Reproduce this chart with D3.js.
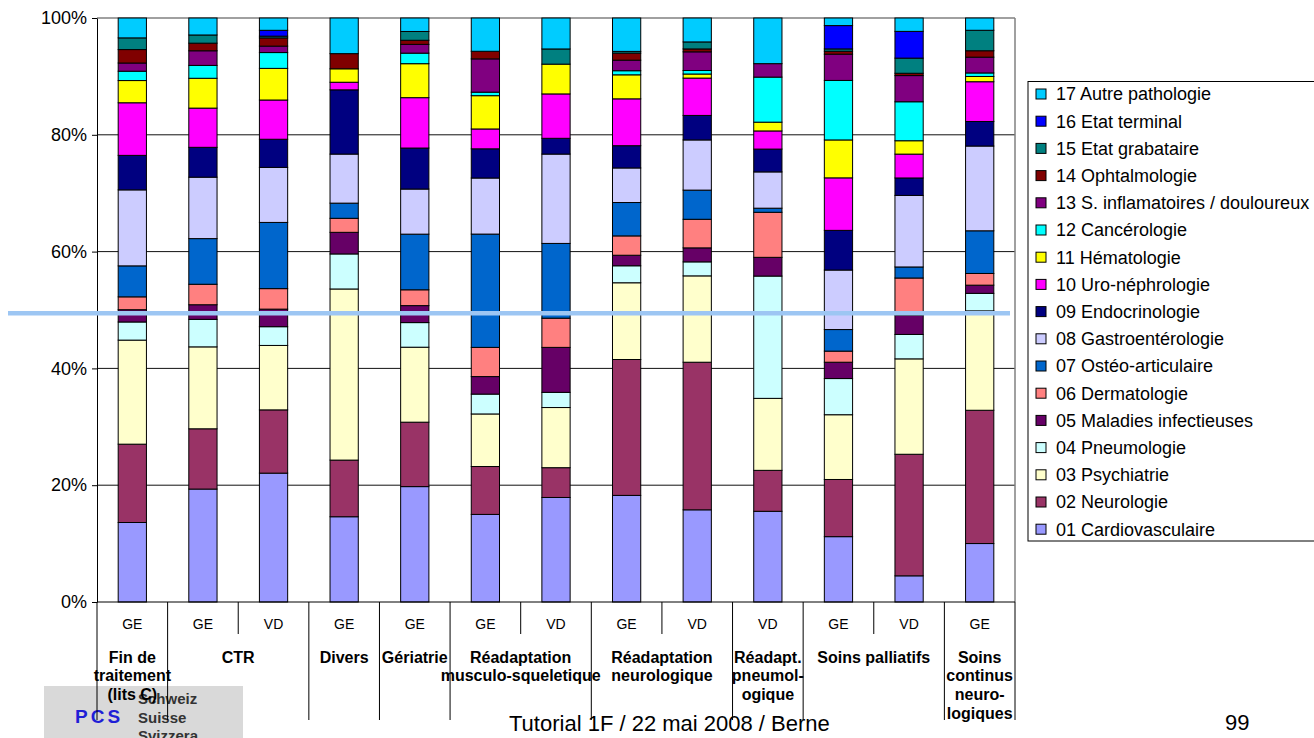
<!DOCTYPE html>
<html>
<head>
<meta charset="utf-8">
<script src="https://cdn.jsdelivr.net/npm/d3@7"></script>
<style>
  body { margin: 0; background: #fff; }
  svg { display: block; font-family: Arial, "Liberation Sans", sans-serif; }
</style>
</head>
<body>
<svg width="1314" height="738"></svg>
<script>
// level 1 of the category axis (canton), one per bar
const sites = ['GE', 'GE', 'VD', 'GE', 'GE', 'GE', 'VD', 'GE', 'VD', 'VD', 'GE', 'VD', 'GE'];
// level 2 of the category axis, split into lines as in the slide
const groupNames = [
  ['Fin de', 'traitement', '(lits C)'],
  ['CTR'],
  ['Divers'],
  ['Gériatrie'],
  ['Réadaptation', 'musculo-squeletique'],
  ['Réadaptation', 'neurologique'],
  ['Réadapt.', 'pneumol-', 'ogique'],
  ['Soins palliatifs'],
  ['Soins', 'continus', 'neuro-', 'logiques']
];
const groupSizes = [1, 2, 1, 1, 2, 2, 1, 2, 1];

const seriesNames = [
  '01 Cardiovasculaire', '02 Neurologie', '03 Psychiatrie', '04 Pneumologie',
  '05 Maladies infectieuses', '06 Dermatologie', '07 Ostéo-articulaire',
  '08 Gastroentérologie', '09 Endocrinologie', '10 Uro-néphrologie',
  '11 Hématologie', '12 Cancérologie', '13 S. inflamatoires / douloureux',
  '14 Ophtalmologie', '15 Etat grabataire', '16 Etat terminal', '17 Autre pathologie'
];
const seriesColors = [
  '#9999FF', '#993366', '#FFFFCC', '#CCFFFF', '#660066', '#FF8080', '#0066CC',
  '#CCCCFF', '#000080', '#FF00FF', '#FFFF00', '#00FFFF', '#800080', '#800000',
  '#008080', '#0000FF', '#00CCFF'
];

// shares in % per bar
const cardio    = [13.6, 19.3, 22.0, 14.6, 19.7, 15.0, 17.9, 18.2, 15.8, 15.5, 11.2, 4.5, 10.0];
const neuro     = [13.4, 10.3, 10.8, 9.7, 11.0, 8.2, 5.1, 23.2, 25.3, 7.0, 9.8, 20.9, 22.8];
const psych     = [17.8, 14.0, 11.0, 29.3, 12.8, 9.0, 10.3, 13.1, 14.8, 12.3, 11.1, 16.4, 17.0];
const pneumo    = [3.1, 4.7, 3.2, 6.0, 4.2, 3.4, 2.6, 2.9, 2.4, 20.9, 6.2, 4.2, 3.0];
const infect    = [2.1, 2.5, 3.0, 3.7, 2.9, 3.0, 7.7, 1.8, 2.4, 3.2, 2.8, 3.3, 1.4];
const dermato   = [2.2, 3.5, 3.5, 2.4, 2.7, 5.0, 5.0, 3.3, 4.9, 7.7, 1.9, 6.4, 2.0];
const osteo     = [5.3, 7.8, 11.3, 2.6, 9.5, 19.4, 12.8, 5.7, 5.0, 0.7, 3.7, 1.9, 7.3];
const gastro    = [13.0, 10.5, 9.4, 8.4, 7.7, 9.6, 15.3, 5.9, 8.6, 6.2, 10.2, 12.3, 14.5];
const endo      = [5.9, 5.1, 4.8, 11.0, 7.0, 5.0, 2.7, 3.8, 4.2, 3.9, 6.8, 3.0, 4.2];
const uro       = [9.0, 6.7, 6.7, 1.3, 8.6, 3.4, 7.6, 8.0, 6.4, 3.1, 9.0, 4.1, 6.8];
const hemato    = [3.8, 5.1, 5.4, 2.3, 5.8, 5.7, 5.1, 4.1, 0.7, 1.5, 6.5, 2.3, 0.9];
const cancer    = [1.6, 2.2, 2.7, 0, 1.8, 0.6, 0, 0.7, 0.6, 7.7, 10.2, 6.7, 0.6];
const inflam    = [1.4, 2.5, 1.1, 0, 1.5, 5.7, 0, 1.8, 3.2, 2.3, 4.5, 4.5, 2.7];
const ophtal    = [2.3, 1.3, 1.4, 2.6, 0.7, 1.3, 0, 1.2, 0.5, 0, 0.5, 0.4, 1.1];
const grabat    = [2.0, 1.4, 0.3, 0, 1.5, 0, 2.6, 0.3, 1.2, 0, 0.4, 2.6, 3.5];
const terminal  = [0, 0, 1.0, 0, 0, 0, 0, 0, 0, 0, 4.0, 4.6, 0];
const autre     = [3.4, 2.9, 2.1, 6.1, 2.3, 5.7, 5.3, 5.7, 4.1, 7.8, 1.3, 2.3, 2.1];

const yTicks = [0, 0.2, 0.4, 0.6, 0.8, 1];

const seriesValues = [cardio, neuro, psych, pneumo, infect, dermato, osteo, gastro,
  endo, uro, hemato, cancer, inflam, ophtal, grabat, terminal, autre];

const svg = d3.select('svg');
const plotLeft = 97, plotRight = 1015, plotTop = 18, plotBottom = 602;

// logo box sits behind the chart
const logo = svg.append('g');
logo.append('rect').attr('x', 44).attr('y', 686).attr('width', 199).attr('height', 52).attr('fill', '#d9d9d9');
logo.append('text').attr('x', 75).attr('y', 723).text('PCS')
  .attr('font-size', 19).attr('font-weight', 'bold').attr('letter-spacing', 3).attr('fill', '#1f1fd6');
logo.selectAll('text.lang').data(['Schweiz', 'Suisse', 'Svizzera']).join('text')
  .attr('class', 'lang')
  .attr('x', 138).attr('y', (d, i) => 704 + i * 18.5)
  .attr('font-size', 15).attr('font-weight', 'bold').attr('fill', '#333')
  .text(d => d);

const x = d3.scaleBand().domain(d3.range(sites.length)).range([plotLeft, plotRight])
  .paddingInner(0.6).paddingOuter(0.3);
const y = d3.scaleLinear().domain([0, 1]).range([plotBottom, plotTop]);
const step = x.step();
const slotLeft = i => plotLeft + i * step;

// gridlines
svg.append('g').selectAll('line').data(yTicks.filter(t => t > 0 && t < 1)).join('line')
  .attr('x1', plotLeft).attr('x2', plotRight).attr('y1', d => y(d)).attr('y2', d => y(d))
  .attr('stroke', '#111').attr('stroke-width', 1);
svg.append('line').attr('x1', plotLeft).attr('x2', plotRight).attr('y1', plotTop).attr('y2', plotTop)
  .attr('stroke', '#808080').attr('stroke-width', 1.5);
svg.append('line').attr('x1', plotRight).attr('x2', plotRight).attr('y1', plotTop).attr('y2', plotBottom)
  .attr('stroke', '#808080').attr('stroke-width', 1.5);

// stacked 100% bars
const rows = sites.map((s, i) => seriesValues.map(v => v[i]));
const stack = d3.stack().keys(d3.range(seriesNames.length)).value((d, k) => d[k])
  .offset(d3.stackOffsetExpand);
const layers = stack(rows);

svg.append('g').selectAll('g').data(layers).join('g')
  .attr('fill', (d, i) => seriesColors[i])
  .selectAll('rect').data(d => d.map((p, i) => ({ p, i })).filter(o => o.p[1] - o.p[0] > 0))
  .join('rect')
    .attr('x', o => x(o.i))
    .attr('width', x.bandwidth())
    .attr('y', o => y(o.p[1]))
    .attr('height', o => y(o.p[0]) - y(o.p[1]))
    .attr('stroke', '#000')
    .attr('stroke-width', 1);

// y axis
const yAxis = svg.append('g').attr('transform', `translate(${plotLeft},0)`)
  .call(d3.axisLeft(y).tickValues(yTicks).tickFormat(d3.format('.0%')).tickSize(5).tickSizeOuter(0));
yAxis.select('.domain').attr('stroke', '#000');
yAxis.selectAll('text').attr('font-size', 18).attr('font-family', 'Arial, "Liberation Sans", sans-serif')
  .attr('fill', '#000').attr('dx', -2);

// category axis line
svg.append('line').attr('x1', plotLeft).attr('x2', plotRight).attr('y1', plotBottom).attr('y2', plotBottom)
  .attr('stroke', '#000');

// separators: long ones at group borders, short ones inside groups
const groupStarts = groupSizes.map((s, i) => d3.sum(groupSizes.slice(0, i)));
const longSep = groupStarts.concat([sites.length]);
const catAxis = svg.append('g');
catAxis.selectAll('line').data(d3.range(sites.length + 1)).join('line')
  .attr('x1', i => slotLeft(i)).attr('x2', i => slotLeft(i))
  .attr('y1', plotBottom).attr('y2', i => longSep.includes(i) ? 720 : 634)
  .attr('stroke', '#000').attr('stroke-width', 1);

catAxis.selectAll('text.site').data(sites).join('text')
  .attr('class', 'site')
  .attr('x', (d, i) => x(i) + x.bandwidth() / 2).attr('y', 629)
  .attr('text-anchor', 'middle').attr('font-size', 14)
  .text(d => d);

const gl = catAxis.selectAll('text.group').data(groupNames).join('text')
  .attr('class', 'group')
  .attr('x', (d, i) => slotLeft(groupStarts[i]) + groupSizes[i] * step / 2)
  .attr('y', 662.5)
  .attr('text-anchor', 'middle').attr('font-size', 16).attr('font-weight', 'bold');
gl.selectAll('tspan').data(d => d).join('tspan')
  .attr('x', function () { return this.parentNode.getAttribute('x'); })
  .attr('dy', (d, i) => i === 0 ? 0 : 18.7)
  .text(d => d);

// legend, last series on top
const legendItems = seriesNames.map((n, i) => i).reverse();
const legend = svg.append('g');
legend.append('rect').attr('x', 1028).attr('y', 81.5).attr('width', 300).attr('height', 459.5)
  .attr('fill', '#fff').attr('stroke', '#000');
const li = legend.selectAll('g.item').data(legendItems).join('g')
  .attr('class', 'item')
  .attr('transform', (d, i) => `translate(1036,${94 + i * 27.2})`);
li.append('rect').attr('x', 0).attr('y', -5).attr('width', 10).attr('height', 10)
  .attr('fill', d => seriesColors[d]).attr('stroke', '#000');
li.append('text').attr('x', 20).attr('y', 6.3).attr('font-size', 18).text(d => seriesNames[d]);

// highlight line across the plot
svg.append('line').attr('x1', 8).attr('x2', 1010).attr('y1', 313.3).attr('y2', 313.3)
  .attr('stroke', '#9dc6f3').attr('stroke-width', 4.5);

// slide footer
svg.append('text').attr('x', 509).attr('y', 731).attr('font-size', 22).text('Tutorial 1F / 22 mai 2008 / Berne');
svg.append('text').attr('x', 1225).attr('y', 730).attr('font-size', 22).text('99');
</script>
</body>
</html>
